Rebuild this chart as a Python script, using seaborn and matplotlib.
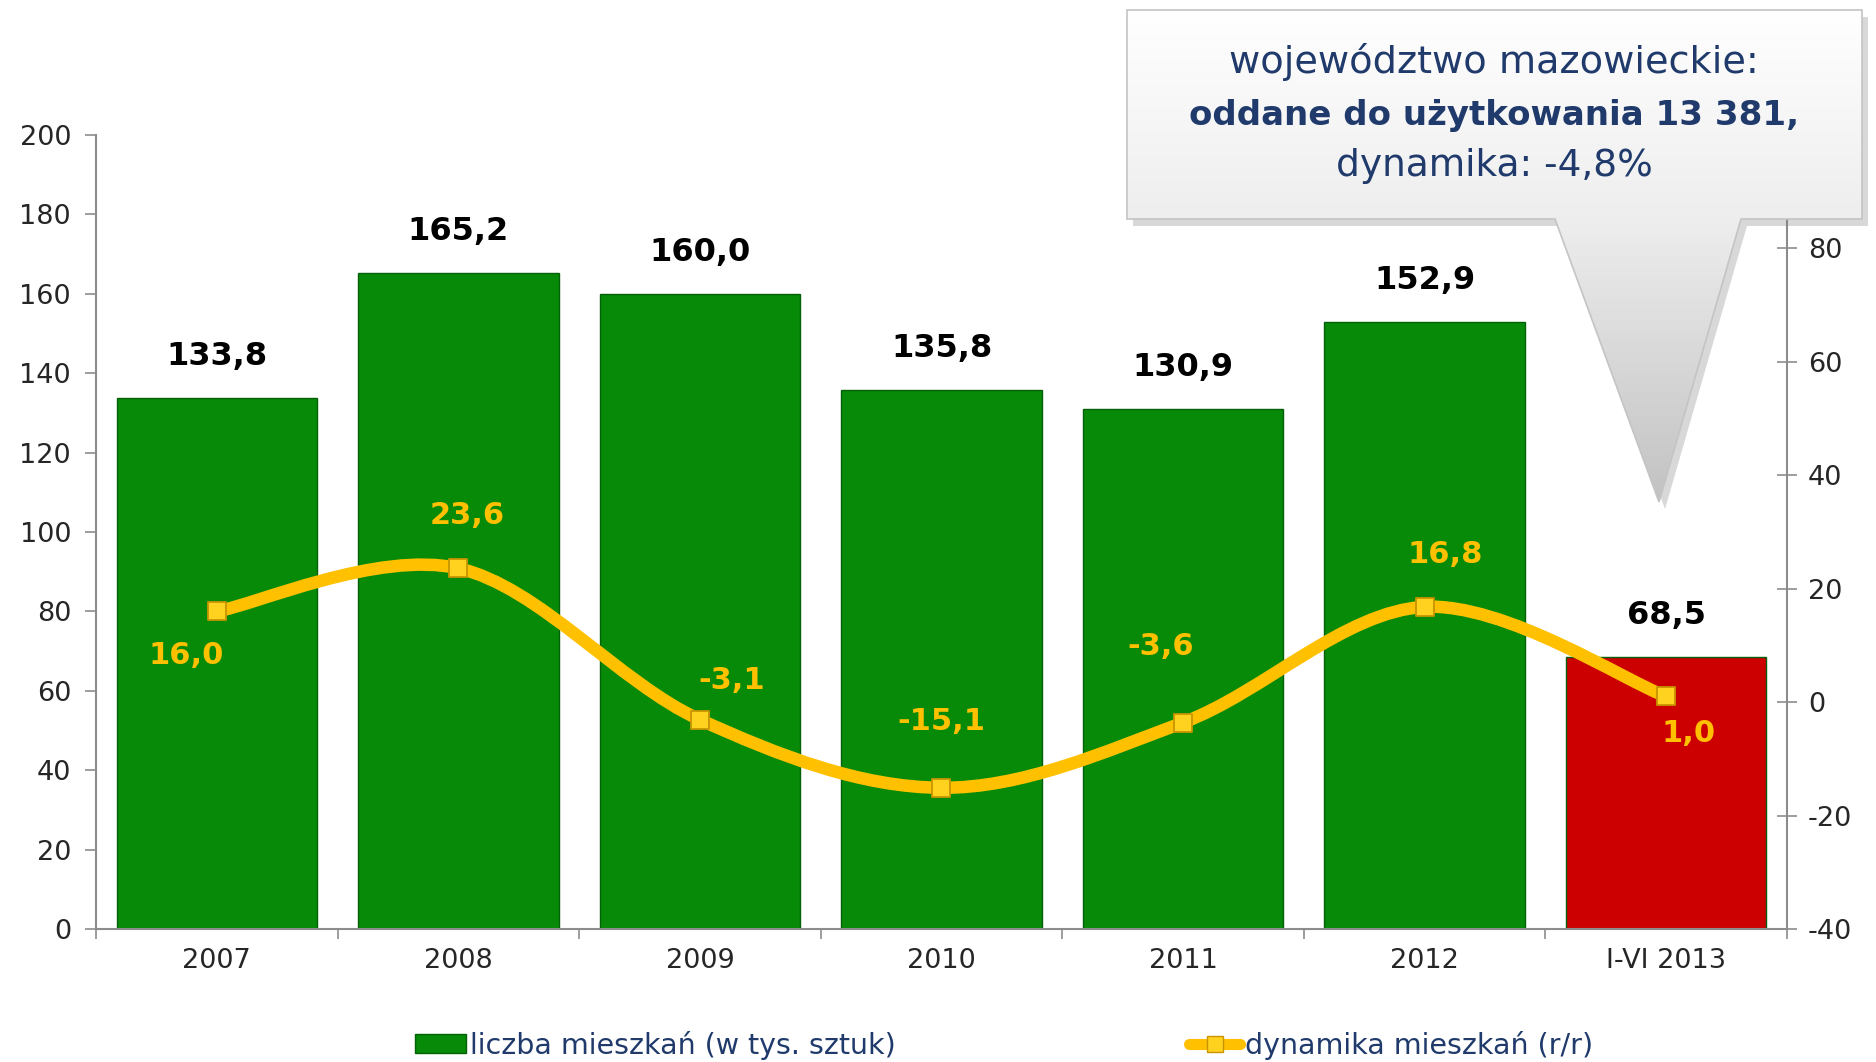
import numpy as np
import pandas as pd
import matplotlib
matplotlib.use("Agg")
import matplotlib.pyplot as plt
import seaborn as sns
from matplotlib.path import Path
from matplotlib.patches import PathPatch, Patch, Polygon
from matplotlib.lines import Line2D
from matplotlib.colors import LinearSegmentedColormap

# dane
categories = ['2007', '2008', '2009', '2010', '2011', '2012', 'I-VI 2013']
mieszkania = [133.8, 165.2, 160.0, 135.8, 130.9, 152.9, 68.5]
dynamika = [16.0, 23.6, -3.1, -15.1, -3.6, 16.8, 1.0]
left_ticks = [0, 20, 40, 60, 80, 100, 120, 140, 160, 180, 200]
right_ticks = [-40, -20, 0, 20, 40, 60, 80, 100]

# przesuniecia etykiet linii (w punktach)
dyn_offsets = [(-22, -32), (6, 38), (23, 28), (0, 48), (-16, 55), (15, 38), (16, -27)]

GREEN = '#078A07'
RED = '#CC0000'
GOLD = '#FFC000'
NAVY = '#1F3A6B'
AXIS_GRAY = '#8C8C8C'

sns.set_style("white")
plt.rcParams['font.family'] = ['DejaVu Sans']
plt.rcParams['axes.unicode_minus'] = False

df = pd.DataFrame({'rok': categories, 'liczba': mieszkania, 'dyn': dynamika})
bar_colors = [GREEN] * 6 + [RED]

fig = plt.figure(figsize=(18.76, 10.62), dpi=100)
ax = fig.add_axes([96 / 1876, 1 - 929 / 1062, (1787 - 96) / 1876, (929 - 135) / 1062])

sns.barplot(data=df, x='rok', y='liczba', hue='rok', palette=bar_colors,
            legend=False, width=0.83, saturation=1, ax=ax,
            edgecolor='#05600A', linewidth=1.0)
ax.set_xlim(-0.5, len(categories) - 0.5)
ax.set_ylim(0, 200)
ax.set_yticks(left_ticks)
ax.set_xlabel('')
ax.set_ylabel('')

for i, v in enumerate(mieszkania):
    ax.annotate(f'{v:.1f}'.replace('.', ','), (i, v), xytext=(0, 30),
                textcoords='offset points', ha='center', va='center',
                fontsize=23, fontweight='bold', color='black')

# osie
for side in ['top', 'right']:
    ax.spines[side].set_visible(False)
for side in ['left', 'bottom']:
    ax.spines[side].set_color(AXIS_GRAY)
    ax.spines[side].set_linewidth(1.5)
ax.tick_params(axis='y', direction='out', length=8, width=1.2, color=AXIS_GRAY,
               pad=10, labelsize=19.5, left=True)
ax.tick_params(axis='x', which='major', length=0, pad=14, labelsize=19.5)
ax.set_xticks(np.arange(-0.5, len(categories)), minor=True)
ax.tick_params(axis='x', which='minor', direction='out', length=7, width=1.2,
               color=AXIS_GRAY, bottom=True)

# druga os - dynamika
ax2 = ax.twinx()
ax2.set_ylim(-40, 100)
ax2.set_yticks(right_ticks)
for side in ['top', 'left', 'bottom']:
    ax2.spines[side].set_visible(False)
ax2.spines['right'].set_color(AXIS_GRAY)
ax2.spines['right'].set_linewidth(1.5)
ax2.tick_params(axis='y', direction='inout', length=14, width=1.2, color=AXIS_GRAY,
                pad=8, labelsize=19.5, right=True)

# wygladzona linia (krzywe Beziera przez punkty danych)
xs = np.arange(len(dynamika), dtype=float)
pts = np.column_stack([xs, dynamika])
verts = [pts[0]]
codes = [Path.MOVETO]
n = len(pts)
for i in range(n - 1):
    p0 = pts[max(i - 1, 0)]
    p1 = pts[i]
    p2 = pts[i + 1]
    p3 = pts[min(i + 2, n - 1)]
    verts += [p1 + (p2 - p0) / 6, p2 - (p3 - p1) / 6, p2]
    codes += [Path.CURVE4] * 3
ax2.add_patch(PathPatch(Path(verts, codes), facecolor='none', edgecolor=GOLD,
                        linewidth=9, capstyle='round', joinstyle='round', zorder=3))
sns.scatterplot(x=xs, y=dynamika, marker='s', s=170, color='#FFD21F',
                edgecolor='#C89400', linewidth=1.3, zorder=4, ax=ax2, legend=False)

for i, v in enumerate(dynamika):
    ax2.annotate(f'{v:.1f}'.replace('.', ','), (i, v), xytext=dyn_offsets[i],
                 textcoords='offset points', ha='center', va='center',
                 fontsize=22, fontweight='bold', color=GOLD, zorder=5)

# legenda
handles = [
    Patch(facecolor=GREEN, edgecolor='#05600A'),
    Line2D([0], [0], color=GOLD, lw=8, marker='s', markersize=11,
           markerfacecolor='#FFD21F', markeredgecolor='#C89400'),
]
labels = ['liczba mieszkań (w tys. sztuk)', 'dynamika mieszkań (r/r)']
leg = fig.legend(handles, labels, loc='center', bbox_to_anchor=(0.535, 0.016),
                 ncol=2, frameon=False, fontsize=20.5, handlelength=1.8,
                 handleheight=0.6, handletextpad=0.15, columnspacing=10.3)
for t in leg.get_texts():
    t.set_color(NAVY)

# dymek z opisem
ov = fig.add_axes([0, 0, 1, 1])
ov.set_xlim(0, 1876)
ov.set_ylim(1062, 0)
ov.axis('off')
ov.patch.set_alpha(0)

bubble = [(1127, 10), (1862, 10), (1862, 219), (1741, 219), (1659, 502),
          (1555, 219), (1127, 219)]
shadow = Polygon([(x + 6, y + 7) for x, y in bubble], closed=True,
                 facecolor='#7F7F7F', edgecolor='none', alpha=0.3)
ov.add_patch(shadow)
shape = Polygon(bubble, closed=True, facecolor='none', edgecolor='#C4C4C4', linewidth=1.2)
ov.add_patch(shape)
cmap = LinearSegmentedColormap.from_list('bub', [(0, '#FFFFFF'), (0.42, '#EEEEEE'), (1, '#C2C2C2')])
grad = np.linspace(0, 1, 256).reshape(-1, 1)
im = ov.imshow(grad, cmap=cmap, extent=(1127, 1862, 502, 10), aspect='auto', zorder=1)
im.set_clip_path(shape)
shape.set_zorder(2)

ov.text(1494, 62, 'województwo mazowieckie:', ha='center', va='center',
        fontsize=27.5, color=NAVY, zorder=3)
ov.text(1494, 116, 'oddane do użytkowania 13 381,', ha='center', va='center',
        fontsize=24.5, fontweight='bold', color=NAVY, zorder=3)
ov.text(1494, 166, 'dynamika: -4,8%', ha='center', va='center',
        fontsize=27, color=NAVY, zorder=3)

fig.savefig('out.png', dpi=100)
